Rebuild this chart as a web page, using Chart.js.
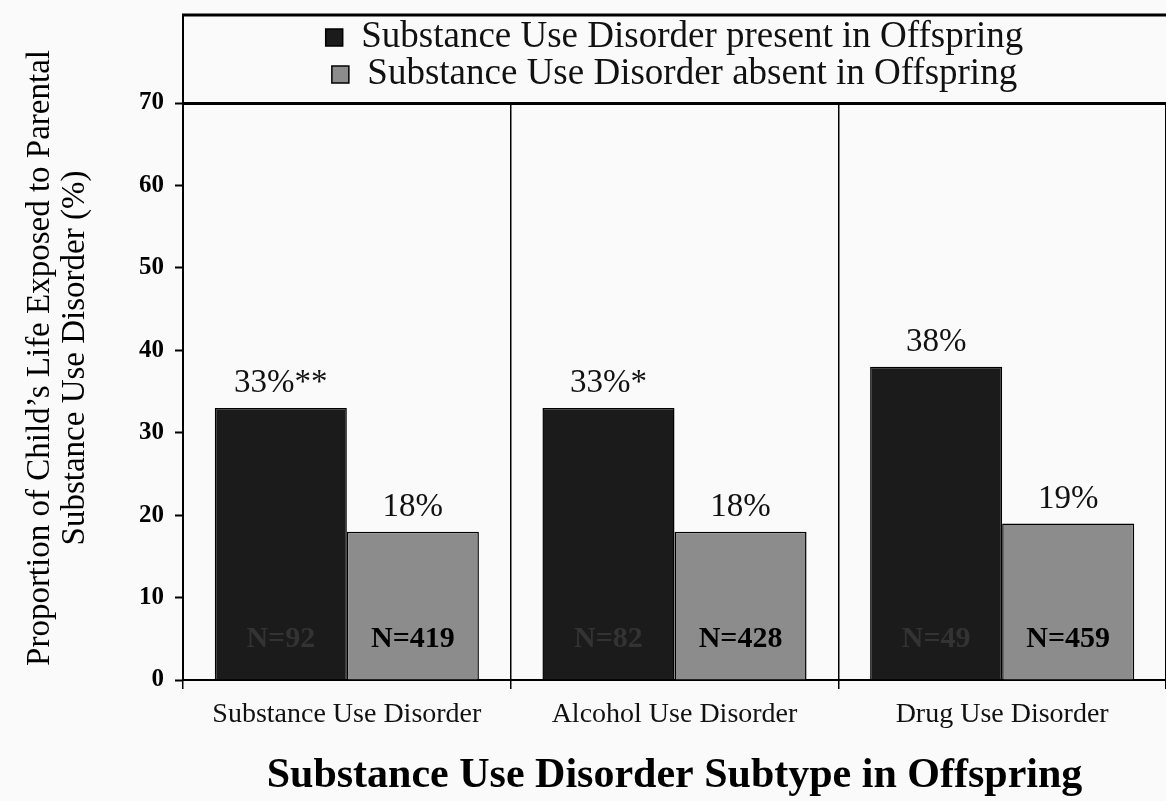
<!DOCTYPE html>
<html>
<head>
<meta charset="utf-8">
<script src="https://cdn.jsdelivr.net/npm/chart.js@4.4.1/dist/chart.umd.min.js"></script>
<style>
  html, body { margin: 0; padding: 0; background: #fafafa; }
  #wrap { width: 1166px; height: 801px; position: relative; }
</style>
</head>
<body>
<div id="wrap"><canvas id="myChart"></canvas></div>
<script>
var categorias = ["Substance Use Disorder", "Alcohol Use Disorder", "Drug Use Disorder"];
var presente = [33, 33, 38];
var ausente = [18, 18, 19];
var etiquetasPresente = ["33%**", "33%*", "38%"];
var etiquetasAusente = ["18%", "18%", "19%"];
var nPresente = ["N=92", "N=82", "N=49"];
var nAusente = ["N=419", "N=428", "N=459"];
var tituloY = ["Proportion of Child\u2019s Life Exposed to Parental", "Substance Use Disorder (%)"];
var tituloX = "Substance Use Disorder Subtype in Offspring";

var fuente = "'Liberation Serif', 'Times New Roman', serif";

var datosChart = {
  labels: categorias,
  datasets: [
    {
      label: "Substance Use Disorder present in Offspring",
      data: presente,
      backgroundColor: "#1b1b1b",
      borderColor: "#000",
      borderWidth: 1.5,
    },
    {
      label: "Substance Use Disorder absent in Offspring",
      data: ausente,
      backgroundColor: "#8c8c8c",
      borderColor: "#000",
      borderWidth: 1.5,
    },
  ],
};

// textos sobre y dentro de las barras
var etiquetasPlugin = {
  id: "etiquetas",
  afterDatasetsDraw(chart) {
    var ctx = chart.ctx;
    var grupos = [
      [etiquetasPresente, nPresente, "#333"],
      [etiquetasAusente, nAusente, "#000"],
    ];
    grupos.forEach(function (g, i) {
      chart.getDatasetMeta(i).data.forEach(function (barra, j) {
        ctx.save();
        ctx.textAlign = "center";
        ctx.fillStyle = "#111";
        ctx.font = "33px " + fuente;
        ctx.textBaseline = "bottom";
        ctx.fillText(g[0][j], barra.x, barra.y - 8);
        ctx.font = "bold 30px " + fuente;
        ctx.fillStyle = g[2];
        ctx.textBaseline = "middle";
        ctx.fillText(g[1][j], barra.x, barra.base - 40);
        ctx.restore();
      });
    });
  },
};

// marco de la leyenda y titulo del eje Y
var marcoPlugin = {
  id: "marco",
  afterDraw(chart) {
    var ctx = chart.ctx;
    var area = chart.chartArea;
    var arriba = chart.legend.top - 4;
    ctx.save();
    ctx.strokeStyle = "#000";
    ctx.lineWidth = 3;
    ctx.beginPath();
    ctx.moveTo(area.left - 1, arriba);
    ctx.lineTo(area.right, arriba);
    ctx.stroke();
    ctx.lineWidth = 2;
    ctx.beginPath();
    ctx.moveTo(area.left, arriba);
    ctx.lineTo(area.left, area.top);
    ctx.stroke();

    ctx.fillStyle = "#000";
    ctx.font = "33px " + fuente;
    ctx.textAlign = "center";
    ctx.textBaseline = "middle";
    [40, 75].forEach(function (x, i) {
      ctx.save();
      ctx.translate(x, 358);
      ctx.rotate(-Math.PI / 2);
      ctx.fillText(tituloY[i], 0, 0);
      ctx.restore();
    });
    ctx.restore();
  },
};

var ctx = document.getElementById("myChart").getContext("2d");
new Chart(ctx, {
  type: "bar",
  data: datosChart,
  plugins: [etiquetasPlugin, marcoPlugin],
  options: {
    responsive: true,
    maintainAspectRatio: false,
    animation: false,
    layout: { padding: { top: 19, left: 0, right: 0, bottom: 0 } },
    datasets: {
      bar: { categoryPercentage: 0.806, barPercentage: 1.0 },
    },
    plugins: {
      tooltip: { enabled: false },
      legend: {
        position: "top",
        fullSize: false,
        align: "center",
        labels: {
          color: "#111",
          font: { family: fuente, size: 37 },
          boxWidth: 17,
          boxHeight: 17,
          padding: 0,
        },
      },
    },
    scales: {
      x: {
        grid: { offset: true, color: "#000", lineWidth: 1.5, tickLength: 9 },
        border: { color: "#000", width: 2 },
        ticks: { color: "#111", font: { family: fuente, size: 28 }, padding: 9 },
        title: {
          display: true,
          text: tituloX,
          color: "#000",
          font: { family: fuente, size: 42, weight: "bold" },
          padding: { top: 10, bottom: 0 },
        },
      },
      y: {
        min: 0,
        max: 70,
        afterFit: function (s) {
          s.width = 183;
        },
        grid: {
          color: function (c) {
            return c.tick && c.tick.value === 70 ? "#000" : "rgba(0,0,0,0)";
          },
          lineWidth: function (c) {
            return c.tick && c.tick.value === 70 ? 3 : 1;
          },
          tickColor: "#000",
          tickWidth: 2,
          tickLength: 8,
        },
        border: { color: "#000", width: 2 },
        ticks: {
          stepSize: 10,
          color: "#000",
          font: { family: fuente, size: 25, weight: "bold" },
          padding: 11,
        },
      },
    },
  },
});
</script>
</body>
</html>
